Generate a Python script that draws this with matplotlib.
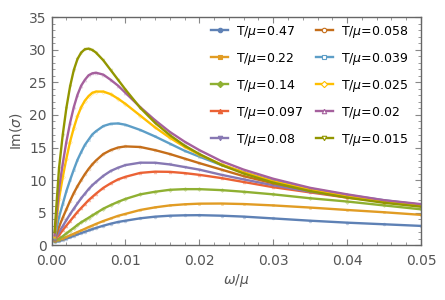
import numpy as np
import matplotlib.pyplot as plt
from matplotlib.lines import Line2D
from matplotlib.ticker import MultipleLocator

# omega/mu sample points
w = [0.0004, 0.001, 0.0015, 0.002, 0.0025, 0.003, 0.0035, 0.004, 0.0045, 0.005,
     0.0055, 0.006, 0.007, 0.008, 0.009, 0.010, 0.012, 0.014, 0.016, 0.018,
     0.020, 0.023, 0.026, 0.030, 0.035, 0.040, 0.045, 0.050]

# Im(sigma), one list per temperature
s047 = [0.5, 0.6, 0.8, 1.0, 1.2, 1.42, 1.64, 1.85, 2.05, 2.26,
        2.45, 2.64, 2.98, 3.29, 3.56, 3.75, 4.12, 4.37, 4.52, 4.58,
        4.6, 4.52, 4.38, 4.1, 3.75, 3.45, 3.2, 2.95]
s022 = [0.6, 0.8, 1.0, 1.25, 1.5, 1.75, 2.0, 2.25, 2.5, 2.77,
        3.0, 3.25, 3.7, 4.1, 4.5, 4.8, 5.4, 5.8, 6.1, 6.27,
        6.37, 6.39, 6.31, 6.1, 5.77, 5.4, 5.05, 4.65]
s014 = [0.7, 1.0, 1.35, 1.79, 2.23, 2.65, 3.1, 3.5, 3.85, 4.2,
        4.55, 4.9, 5.6, 6.15, 6.65, 7.1, 7.8, 8.2, 8.5, 8.6,
        8.6, 8.45, 8.2, 7.8, 7.2, 6.7, 6.1, 5.5]
s0097 = [0.8, 1.5, 2.3, 3.0, 3.7, 4.4, 5.1, 5.7, 6.3, 6.9,
         7.4, 7.9, 8.8, 9.5, 10.1, 10.5, 11.1, 11.29, 11.26, 11.07,
         10.8, 10.3, 9.7, 8.9, 8.1, 7.3, 6.7, 6.0]
s008 = [0.8, 2.0, 2.9, 3.85, 4.75, 5.6, 6.4, 7.2, 7.9, 8.6,
        9.2, 9.7, 10.65, 11.4, 11.9, 12.3, 12.67, 12.66, 12.4, 12.0,
        11.6, 10.8, 10.1, 9.2, 8.2, 7.4, 6.7, 6.1]
s0058 = [0.9, 2.8, 4.2, 5.5, 6.8, 8.0, 9.05, 10.0, 10.9, 11.7,
         12.4, 13.0, 14.0, 14.6, 15.0, 15.17, 15.08, 14.6, 14.0, 13.3,
         12.6, 11.6, 10.6, 9.5, 8.4, 7.5, 6.8, 6.2]
s0039 = [1.0, 4.3, 6.3, 8.3, 10.0, 11.6, 13.1, 14.3, 15.4, 16.2,
         17.0, 17.5, 18.3, 18.65, 18.7, 18.5, 17.7, 16.7, 15.6, 14.5,
         13.6, 12.3, 11.2, 9.9, 8.7, 7.7, 6.9, 6.2]
s0025 = [1.2, 7.1, 10.4, 13.3, 15.9, 18.0, 19.8, 21.2, 22.2, 22.9,
         23.4, 23.6, 23.6, 23.2, 22.5, 21.7, 19.9, 18.1, 16.5, 15.1,
         13.9, 12.4, 11.2, 9.8, 8.5, 7.5, 6.7, 6.1]
s002 = [1.5, 8.6, 12.5, 15.9, 18.8, 21.2, 23.1, 24.5, 25.4, 26.1,
        26.4, 26.5, 26.2, 25.4, 24.5, 23.4, 21.2, 19.2, 17.4, 15.9,
        14.6, 12.9, 11.6, 10.2, 8.8, 7.8, 6.9, 6.3]
s0015 = [2.0, 11.8, 16.9, 21.1, 24.4, 26.9, 28.6, 29.6, 30.1, 30.2,
         30.0, 29.6, 28.4, 26.9, 25.4, 23.9, 21.1, 18.8, 16.9, 15.3,
         14.0, 12.3, 11.0, 9.6, 8.3, 7.3, 6.5, 5.9]

series = [s047, s022, s014, s0097, s008, s0058, s0039, s0025, s002, s0015]
labels = ['T/$\\mu$=0.47', 'T/$\\mu$=0.22', 'T/$\\mu$=0.14', 'T/$\\mu$=0.097',
          'T/$\\mu$=0.08', 'T/$\\mu$=0.058', 'T/$\\mu$=0.039', 'T/$\\mu$=0.025',
          'T/$\\mu$=0.02', 'T/$\\mu$=0.015']
colors = ['#5E81B5', '#E19C24', '#8FB032', '#EB6235', '#8778B3',
          '#C56E1A', '#5D9EC7', '#FFBF00', '#A5609D', '#929600']
markers = ['o', 's', 'D', '^', 'v', 'o', 's', 'D', '^', 'v']
filled = [True] * 5 + [False] * 5

gray = '#555555'
plt.rcParams['font.family'] = 'DejaVu Sans'

fig = plt.figure(figsize=(4.45, 3.0), dpi=100)
ax = fig.add_axes([0.116, 0.183, 0.830, 0.759])

handles = []
for s, lab, c, m, f in zip(series, labels, colors, markers, filled):
    ax.plot(w, s, ls='none', marker=m, ms=2.0, color=c, alpha=0.3,
            mfc=c if f else 'none', mew=0.6)
    ax.plot(w, s, color=c, lw=1.7)
    handles.append(Line2D([], [], color=c, lw=1.7, marker=m, ms=3.2,
                          mfc=c if f else 'white', mew=0.8, label=lab))

ax.set_xlim(0, 0.05)
ax.set_ylim(0, 35)
ax.xaxis.set_major_locator(MultipleLocator(0.01))
ax.xaxis.set_minor_locator(MultipleLocator(0.002))
ax.yaxis.set_major_locator(MultipleLocator(5))
ax.yaxis.set_minor_locator(MultipleLocator(1))
ax.xaxis.set_major_formatter(plt.FuncFormatter(lambda v, p: '%.2f' % v))
ax.tick_params(which='both', direction='in', top=True, right=True,
               colors='#888888', labelcolor=gray, labelsize=10)
ax.tick_params(which='major', length=4, width=0.8)
ax.tick_params(which='minor', length=2, width=0.6)
ax.tick_params(axis='x', pad=6.5)
for sp in ax.spines.values():
    sp.set_color('#666666')
    sp.set_linewidth(1.0)

ax.set_xlabel('$\\omega/\\mu$', color=gray, fontsize=10, labelpad=3)
ax.set_ylabel('Im($\\sigma$)', color=gray, fontsize=10, labelpad=4)

leg = ax.legend(handles=handles, ncol=2, loc='upper right',
                bbox_to_anchor=(0.985, 1.005), frameon=False, fontsize=9,
                handlelength=1.35, handletextpad=0.65, columnspacing=1.0,
                labelspacing=0.88, borderaxespad=0.2)

fig.savefig('out.png', dpi=100)
